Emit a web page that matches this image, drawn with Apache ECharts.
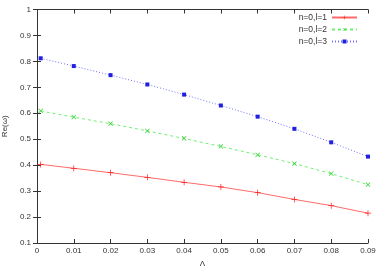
<!DOCTYPE html>
<html><head><meta charset="utf-8">
<script src="https://cdn.jsdelivr.net/npm/echarts@6/dist/echarts.min.js"></script>
<style>html,body{margin:0;padding:0;background:#fff}#c{width:382px;height:267px}</style>
</head><body><div id="c"></div>
<script>
var lambdaValues = [0.001, 0.01, 0.02, 0.03, 0.04, 0.05, 0.06, 0.07, 0.08, 0.09];
var seriesL1 = [0.403, 0.388, 0.371, 0.353, 0.334, 0.316, 0.294, 0.268, 0.244, 0.215];
var seriesL2 = [0.609, 0.585, 0.560, 0.532, 0.503, 0.472, 0.440, 0.406, 0.367, 0.325];
var seriesL3 = [0.812, 0.782, 0.747, 0.711, 0.672, 0.630, 0.587, 0.540, 0.488, 0.433];
var seriesNames = ['n=0,l=1', 'n=0,l=2', 'n=0,l=3'];

function pairs(ys){ return lambdaValues.map(function(x,i){return [x, ys[i]];}); }
var plus = 'path://M4.4,0h1.2v10h-1.2zM0,4.4h10v1.2h-10z';
var font = 'Liberation Sans';
var chart = echarts.init(document.getElementById('c'));
function mkSeries(name, data, lineColor, ptColor, type, symbol, size, rot){
  return {name:name, type:'line', data:pairs(data), symbol:symbol, symbolSize:size, symbolRotate:rot||0,
    showSymbol:true, animation:false,
    lineStyle:{color:lineColor, width:1, type:type},
    itemStyle:{color:ptColor}};
}
chart.setOption({
  animation:false,
  textStyle:{fontFamily:font},
  grid:{left:37, right:14, top:9.5, bottom:24, outerBoundsMode:'none', containLabel:false},
  legend:{orient:'vertical', right:19, top:8, align:'right', itemWidth:25, itemHeight:5, itemGap:3,
    textStyle:{fontSize:8.5, color:'#333', fontFamily:font},
    data:seriesNames},
  xAxis:[{type:'value', min:0, max:0.09, interval:0.01, position:'bottom',
    name:'Λ', nameLocation:'middle', nameGap:11, nameTextStyle:{fontSize:8, color:'#333'},
    axisLine:{lineStyle:{color:'#333', width:1}}, axisTick:{inside:true, length:4, lineStyle:{color:'#333'}},
    axisLabel:{fontSize:8, color:'#333', margin:4, formatter:function(v){return v===0?'0':v.toFixed(2);}},
    splitLine:{show:false}},
    {type:'value', min:0, max:0.09, interval:0.01, position:'top',
    axisLine:{show:true, lineStyle:{color:'#333', width:1}}, axisTick:{inside:true, length:4, lineStyle:{color:'#333'}},
    axisLabel:{show:false}, splitLine:{show:false}}],
  yAxis:[{type:'value', min:0.1, max:1, interval:0.1, position:'left',
    name:'Re(ω)', nameLocation:'middle', nameGap:24, nameRotate:90, nameTextStyle:{fontSize:8, color:'#333'},
    axisLine:{show:true, lineStyle:{color:'#333', width:1}}, axisTick:{show:true, inside:true, length:4, lineStyle:{color:'#333'}},
    axisLabel:{fontSize:8, color:'#333', margin:6, formatter:function(v){return (Math.round(v*10)/10).toString();}},
    splitLine:{show:false}},
    {type:'value', min:0.1, max:1, interval:0.1, position:'right',
    axisLine:{show:true, lineStyle:{color:'#333', width:1}}, axisTick:{show:true, inside:true, length:4, lineStyle:{color:'#333'}},
    axisLabel:{show:false}, splitLine:{show:false}}],
  series:[
    mkSeries(seriesNames[0], seriesL1, '#ff6a6a', '#ff2020', 'solid', plus, 6, 0),
    mkSeries(seriesNames[1], seriesL2, '#70f070', '#30d030', [3,3], plus, 6, 45),
    mkSeries(seriesNames[2], seriesL3, '#7070ff', '#2020e0', [1,2], 'rect', 4, 0)
  ]
});
</script></body></html>
